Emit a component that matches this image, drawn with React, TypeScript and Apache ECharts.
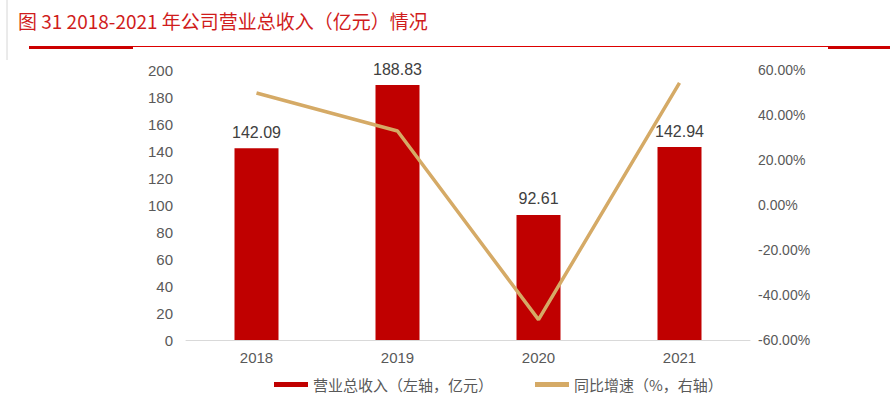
import React, { useEffect, useRef } from "react";
import * as echarts from "echarts";

const categories = ["2018", "2019", "2020", "2021"];
const revenue = [142.09, 188.83, 92.61, 142.94];
const growth = [49.8, 32.9, -50.96, 54.3];
const titleText = "图 31 2018-2021 年公司营业总收入（亿元）情况";
const barName = "营业总收入（左轴，亿元）";
const lineName = "同比增速（%，右轴）";

const FONT = "'Liberation Sans', 'Noto Sans CJK SC', sans-serif";
const CJK = "'Noto Sans CJK SC', 'Liberation Sans', sans-serif";

export default function App() {
  const ref = useRef<HTMLDivElement>(null);
  useEffect(() => {
    if (!ref.current) return;
    const chart = echarts.init(ref.current, undefined, { renderer: "svg" });
    chart.setOption({
      animation: false,
      backgroundColor: "#ffffff",
      graphic: [
        { type: "line", shape: { x1: 7, y1: 0, x2: 7, y2: 60 }, style: { stroke: "#d6d6d6", lineWidth: 1 } },
        { type: "text", left: 18, top: 11, style: { text: titleText, fill: "#d01c1c", font: `19px ${CJK}` } },
        { type: "rect", shape: { x: 29, y: 46, width: 104, height: 3 }, style: { fill: "#cc0000" } },
        { type: "rect", shape: { x: 828, y: 46, width: 62, height: 3 }, style: { fill: "#cc0000" } },
        { type: "rect", shape: { x: 133, y: 46, width: 695, height: 1 }, style: { fill: "#dd0000" } },
      ],
      legend: {
        left: 269,
        top: 372,
        itemGap: 42,
        textStyle: { color: "#595959", fontSize: 15, fontFamily: CJK },
        data: [
          { name: barName, icon: "rect", itemWidth: 34, itemHeight: 5 } as any,
          { name: lineName, icon: "rect", itemWidth: 34, itemHeight: 3 } as any,
        ],
        itemWidth: 34,
        itemHeight: 5,
      },
      grid: { left: 186, right: 140, top: 70, bottom: 58 },
      xAxis: {
        type: "category",
        data: categories,
        axisLine: { lineStyle: { color: "#d9d9d9", width: 1 } },
        axisTick: { show: false },
        axisLabel: { color: "#595959", fontSize: 15, fontFamily: FONT, margin: 10 },
      },
      yAxis: [
        {
          type: "value",
          min: 0,
          max: 200,
          interval: 20,
          splitLine: { show: false },
          axisLine: { show: false },
          axisTick: { show: false },
          axisLabel: { color: "#595959", fontSize: 15, fontFamily: FONT, margin: 13 },
        },
        {
          type: "value",
          min: -60,
          max: 60,
          interval: 20,
          splitLine: { show: false },
          axisLine: { show: false },
          axisTick: { show: false },
          axisLabel: {
            color: "#595959",
            fontSize: 14,
            fontFamily: FONT,
            margin: 8,
            formatter: (v: number) => v.toFixed(2) + "%",
          },
        },
      ],
      series: [
        {
          name: barName,
          type: "bar",
          data: revenue,
          barWidth: 44,
          itemStyle: { color: "#c00000" },
          label: {
            show: true,
            position: "top",
            distance: 8,
            color: "#404040",
            fontSize: 16,
            fontFamily: FONT,
            formatter: (p: any) => p.value.toFixed(2),
          },
        },
        {
          name: lineName,
          type: "line",
          yAxisIndex: 1,
          data: growth,
          symbol: "none",
          lineStyle: { color: "#d5aa66", width: 3.5 },
          itemStyle: { color: "#d5aa66" },
        },
      ],
    });
    return () => chart.dispose();
  }, []);
  return <div ref={ref} style={{ width: 890, height: 398, position: "absolute", left: 0, top: 0 }} />;
}
